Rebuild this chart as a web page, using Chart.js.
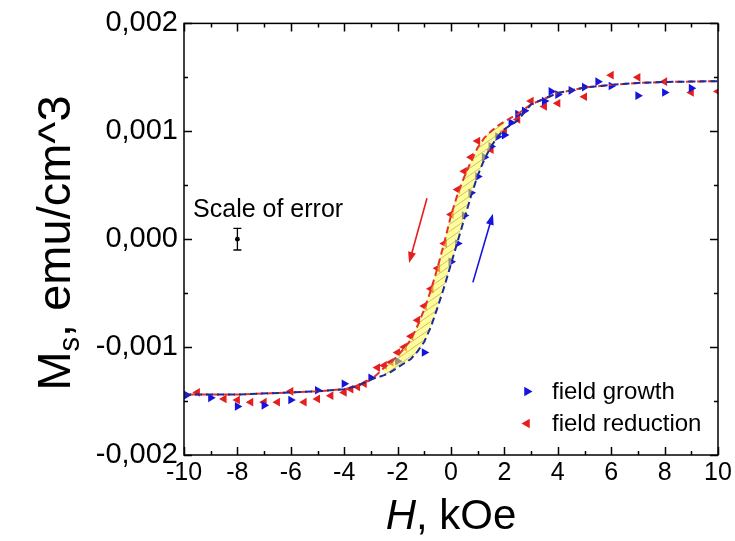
<!DOCTYPE html>
<html>
<head>
<meta charset="utf-8">
<script src="https://cdn.jsdelivr.net/npm/chart.js@4.4.0/dist/chart.umd.min.js"></script>
<style>
  html, body { margin: 0; padding: 0; background: #fff; }
</style>
</head>
<body>
<canvas id="c" width="735" height="541"></canvas>
<script>
// field growth (blue) : H in kOe, Ms in emu/cm^3
const growthH = [-9.9, -9, -8, -7, -6, -5, -4, -3, -2, -1, 0, 0.25, 0.5, 0.75, 1, 1.25, 1.5, 1.75, 2, 2.25, 2.5, 2.75, 3.5, 3.75, 4, 4.5, 5, 5.5, 6, 7, 8, 9];
const growthM = [-0.001445, -0.00147, -0.00155, -0.00154, -0.00149, -0.0014, -0.00134, -0.001285, -0.00113, -0.00105, -0.00021, -0.00004, 0.00022, 0.00043, 0.00058, 0.00076, 0.00086, 0.00095, 0.000965, 0.00108, 0.00116, 0.00119, 0.00128, 0.00137, 0.00134, 0.00138, 0.00141, 0.00146, 0.00142, 0.00133, 0.00136, 0.0014];

// field reduction (red)
const reductionH = [-9.5, -8.5, -8, -7.5, -7, -6.5, -6, -5.5, -5, -4.5, -4, -3.75, -3.5, -3.25, -2.75, -2.5, -2.25, -2, -1.75, -1.5, -1.25, -1, -0.75, -0.5, -0.25, 0, 0.25, 0.5, 0.75, 1, 1.5, 2, 2.5, 3, 3.5, 4, 5, 6, 7, 8, 9, 10];
const reductionM = [-0.00142, -0.00148, -0.00149, -0.00151, -0.00151, -0.00151, -0.00141, -0.00151, -0.00148, -0.00145, -0.00142, -0.00139, -0.00137, -0.00134, -0.00119, -0.00117, -0.00114, -0.00105, -0.001, -0.0009, -0.00075, -0.00062, -0.00046, -0.00027, -0.00004, 0.00023, 0.00046, 0.00063, 0.00076, 0.00091, 0.00083, 0.001, 0.00111, 0.00128, 0.00123, 0.00126, 0.00132, 0.00152, 0.0015, 0.00146, 0.00136, 0.00137];

// dashed guide curves
const growthCurveH = [-10, -8, -6, -5, -4, -3.5, -3, -2.75, -2.5, -2.25, -2, -1.75, -1.5, -1.25, -1, -0.75, -0.5, -0.25, 0, 0.25, 0.5, 0.75, 1, 1.25, 1.5, 1.75, 2, 2.5, 3, 4, 5, 6, 7, 8, 10];
const growthCurveM = [-0.00144, -0.00144, -0.00142, -0.00141, -0.00139, -0.00136, -0.0013, -0.00128, -0.00126, -0.00123, -0.00119, -0.00115, -0.00111, -0.00104, -0.00095, -0.00081, -0.00063, -0.00044, -0.00023, -0.00002, 0.00019, 0.0004, 0.00059, 0.00074, 0.00086, 0.00095, 0.00102, 0.0011, 0.00125, 0.001355, 0.001405, 0.00143, 0.001448, 0.001457, 0.001465];
const reductionCurveH = [-10, -8, -6, -5, -4, -3.5, -3, -2.75, -2.5, -2.25, -2, -1.75, -1.5, -1.25, -1, -0.75, -0.5, -0.25, 0, 0.25, 0.5, 0.75, 1, 1.25, 1.5, 1.75, 2, 2.5, 3, 4, 5, 6, 7, 8, 10];
const reductionCurveM = [-0.00144, -0.00144, -0.00142, -0.00141, -0.00139, -0.00136, -0.0013, -0.00125, -0.00119, -0.00114, -0.00108, -0.00101, -0.00093, -0.0008, -0.00065, -0.00047, -0.00026, -0.00003, 0.00022, 0.00042, 0.00058, 0.00072, 0.00085, 0.00094, 0.001, 0.00105, 0.00109, 0.00116, 0.00125, 0.001355, 0.001405, 0.00143, 0.001448, 0.001457, 0.001465];

// hysteresis band between the two curves
const bandStart = -2.5, bandEnd = 2.0;

// axis ticks
const xMajorTicks = [-10, -8, -6, -4, -2, 0, 2, 4, 6, 8, 10];
const xMinorTicks = [-9, -7, -5, -3, -1, 1, 3, 5, 7, 9];
const yMajorTicks = [-0.002, -0.001, 0, 0.001, 0.002];
const yMinorTicks = [-0.0015, -0.0005, 0.0005, 0.0015];
const yTickLabels = ['-0,002', '-0,001', '0,000', '0,001', '0,002'];

// annotations (data units)
const errorBar = { h: -8, m: 0, err: 0.0001 };
const errorLabel = { text: 'Scale of error', h: -9.66, m: 0.00021 };
const arrowReduction = { from: [-0.9, 0.00038], to: [-1.57, -0.00022] };
const arrowGrowth = { from: [0.82, -0.0004], to: [1.57, 0.000235] };

const BLUE = '#1414dc';
const RED = '#e61e1e';
const FONT = '"Liberation Sans", Arial, sans-serif';

const canvas = document.getElementById('c');
const c2d = canvas.getContext('2d');

function hatchPattern() {
  const t = document.createElement('canvas');
  t.width = 10; t.height = 7;
  const g = t.getContext('2d');
  g.fillStyle = 'rgba(255,250,70,0.55)';
  g.fillRect(0, 0, 10, 7);
  g.strokeStyle = 'rgba(120,120,90,0.55)';
  g.lineWidth = 0.8;
  g.beginPath();
  g.moveTo(0, 7); g.lineTo(10, 0);
  g.moveTo(-10, 7); g.lineTo(0, 0);
  g.moveTo(10, 7); g.lineTo(20, 0);
  g.stroke();
  return c2d.createPattern(t, 'repeat');
}

const pts = (hs, ms) => hs.map((h, i) => ({ x: h, y: ms[i] }));

const band = [];
reductionCurveH.forEach((h, i) => {
  if (h >= bandStart && h <= bandEnd) band.push({ x: h, y: reductionCurveM[i] });
});
for (let i = growthCurveH.length - 1; i >= 0; i--) {
  const h = growthCurveH[i];
  if (h >= bandStart && h <= bandEnd) band.push({ x: h, y: growthCurveM[i] });
}

function arrow(g, x0, y0, x1, y1, color) {
  const a = Math.atan2(y1 - y0, x1 - x0);
  const len = 11, w = 4;
  g.strokeStyle = color;
  g.fillStyle = color;
  g.lineWidth = 1.6;
  g.beginPath();
  g.moveTo(x0, y0);
  g.lineTo(x1 - Math.cos(a) * len * 0.8, y1 - Math.sin(a) * len * 0.8);
  g.stroke();
  g.beginPath();
  g.moveTo(x1, y1);
  g.lineTo(x1 - Math.cos(a) * len - Math.sin(a) * w, y1 - Math.sin(a) * len + Math.cos(a) * w);
  g.lineTo(x1 - Math.cos(a) * len + Math.sin(a) * w, y1 - Math.sin(a) * len - Math.cos(a) * w);
  g.closePath();
  g.fill();
}

function tri(g, x, y, r, dir, color) {
  g.fillStyle = color;
  g.beginPath();
  g.moveTo(x + dir * r, y);
  g.lineTo(x - dir * r * 0.5, y - r * 0.866);
  g.lineTo(x - dir * r * 0.5, y + r * 0.866);
  g.closePath();
  g.fill();
}

const overlay = {
  id: 'overlay',
  afterDatasetsDraw(chart) {
    const g = chart.ctx;
    const xs = chart.scales.x, ys = chart.scales.y;
    const px = v => xs.getPixelForValue(v), py = v => ys.getPixelForValue(v);
    g.save();
    arrow(g, px(arrowReduction.from[0]), py(arrowReduction.from[1]), px(arrowReduction.to[0]), py(arrowReduction.to[1]), RED);
    arrow(g, px(arrowGrowth.from[0]), py(arrowGrowth.from[1]), px(arrowGrowth.to[0]), py(arrowGrowth.to[1]), BLUE);

    // scale of error
    const ex = px(errorBar.h), ey = py(errorBar.m);
    const et = py(errorBar.m + errorBar.err), eb = py(errorBar.m - errorBar.err);
    g.strokeStyle = '#000';
    g.lineWidth = 1.3;
    g.beginPath();
    g.moveTo(ex, et); g.lineTo(ex, eb);
    g.moveTo(ex - 4, et); g.lineTo(ex + 4, et);
    g.moveTo(ex - 4, eb); g.lineTo(ex + 4, eb);
    g.stroke();
    g.fillStyle = '#000';
    g.beginPath(); g.arc(ex, ey, 2.4, 0, Math.PI * 2); g.fill();
    g.font = '25px ' + FONT;
    g.textBaseline = 'alphabetic';
    g.textAlign = 'left';
    g.fillText(errorLabel.text, px(errorLabel.h), py(errorLabel.m));

    // legend
    const a = chart.chartArea;
    g.font = '24px ' + FONT;
    g.textBaseline = 'middle';
    tri(g, a.left + 343, a.top + 368, 5.5, 1, BLUE);
    g.fillStyle = '#000';
    g.fillText('field growth', a.left + 368, a.top + 369);
    tri(g, a.left + 343, a.top + 400, 5.5, -1, RED);
    g.fillStyle = '#000';
    g.fillText('field reduction', a.left + 368, a.top + 401);
    g.restore();
  },
  afterDraw(chart) {
    const g = chart.ctx;
    const a = chart.chartArea;
    const xs = chart.scales.x, ys = chart.scales.y;
    g.save();
    g.strokeStyle = '#000';
    g.lineWidth = 1.5;
    g.strokeRect(a.left, a.top, a.right - a.left, a.bottom - a.top);
    g.beginPath();
    const xt = (list, len) => list.forEach(v => {
      const p = Math.round(xs.getPixelForValue(v)) + 0.5;
      g.moveTo(p, a.bottom); g.lineTo(p, a.bottom - len);
      g.moveTo(p, a.top); g.lineTo(p, a.top + len);
    });
    const yt = (list, len) => list.forEach(v => {
      const p = Math.round(ys.getPixelForValue(v)) + 0.5;
      g.moveTo(a.left, p); g.lineTo(a.left + len, p);
      g.moveTo(a.right, p); g.lineTo(a.right - len, p);
    });
    xt(xMajorTicks, 8); xt(xMinorTicks, 4);
    yt(yMajorTicks, 8); yt(yMinorTicks, 4);
    g.stroke();

    // axis titles
    g.fillStyle = '#000';
    g.textBaseline = 'alphabetic';
    g.textAlign = 'left';
    const xSize = 42;
    g.font = 'italic ' + xSize + 'px ' + FONT;
    const wH = g.measureText('H').width;
    g.font = xSize + 'px ' + FONT;
    const wRest = g.measureText(', kOe').width;
    const cx = (a.left + a.right) / 2;
    let x0 = cx - (wH + wRest) / 2;
    g.font = 'italic ' + xSize + 'px ' + FONT;
    g.fillText('H', x0, 529);
    g.font = xSize + 'px ' + FONT;
    g.fillText(', kOe', x0 + wH, 529);

    const ySize = 47;
    const subSize = Math.round(ySize * 0.62);
    g.translate(70, 243);
    g.rotate(-Math.PI / 2);
    g.font = ySize + 'px ' + FONT;
    const wM = g.measureText('M').width;
    const wRest2 = g.measureText(', emu/cm^3').width;
    g.font = subSize + 'px ' + FONT;
    const wS = g.measureText('s').width;
    x0 = -(wM + wS + wRest2) / 2;
    g.font = ySize + 'px ' + FONT;
    g.fillText('M', x0, 0);
    g.font = subSize + 'px ' + FONT;
    g.fillText('s', x0 + wM, 9);
    g.font = ySize + 'px ' + FONT;
    g.fillText(', emu/cm^3', x0 + wM + wS, 0);
    g.restore();
  }
};

new Chart(canvas, {
  type: 'scatter',
  data: {
    datasets: [
      { label: 'growth curve', data: pts(growthCurveH, growthCurveM), showLine: true, borderColor: '#1c2a9a', borderWidth: 2, borderDash: [7, 4], pointRadius: 0, fill: false, order: 0 },
      { label: 'reduction curve', data: pts(reductionCurveH, reductionCurveM), showLine: true, borderColor: '#e0322a', borderWidth: 2, borderDash: [7, 4], borderDashOffset: 5, pointRadius: 0, fill: false, order: 0 },
      { label: 'band', data: band, showLine: true, borderColor: 'transparent', borderWidth: 0, pointRadius: 0, fill: 'shape', backgroundColor: hatchPattern(), order: 1 },
      { label: 'field growth', data: pts(growthH, growthM), pointStyle: 'triangle', rotation: 90, pointRadius: 5, backgroundColor: BLUE, borderColor: BLUE, borderWidth: 0, order: 2 },
      { label: 'field reduction', data: pts(reductionH, reductionM), pointStyle: 'triangle', rotation: 270, pointRadius: 5, backgroundColor: RED, borderColor: RED, borderWidth: 0, order: 2 }
    ]
  },
  options: {
    responsive: false,
    animation: false,
    events: [],
    layout: { padding: { top: 22, right: 17, left: 0, bottom: 0 } },
    plugins: { legend: { display: false }, tooltip: { enabled: false } },
    scales: {
      x: {
        type: 'linear', min: -10, max: 10,
        afterBuildTicks: s => { s.ticks = xMajorTicks.map(v => ({ value: v })); },
        afterFit: s => { s.height = 86; },
        grid: { display: false, drawTicks: false },
        border: { display: false },
        ticks: { color: '#000', font: { family: FONT, size: 25 }, padding: 3, maxRotation: 0 }
      },
      y: {
        type: 'linear', min: -0.002, max: 0.002,
        afterBuildTicks: s => { s.ticks = yMajorTicks.map(v => ({ value: v })); },
        afterFit: s => { s.width = 184; },
        grid: { display: false, drawTicks: false },
        border: { display: false },
        ticks: { color: '#000', font: { family: FONT, size: 29 }, padding: 6, callback: (v, i) => yTickLabels[i] }
      }
    }
  },
  plugins: [overlay]
});
</script>
</body>
</html>
